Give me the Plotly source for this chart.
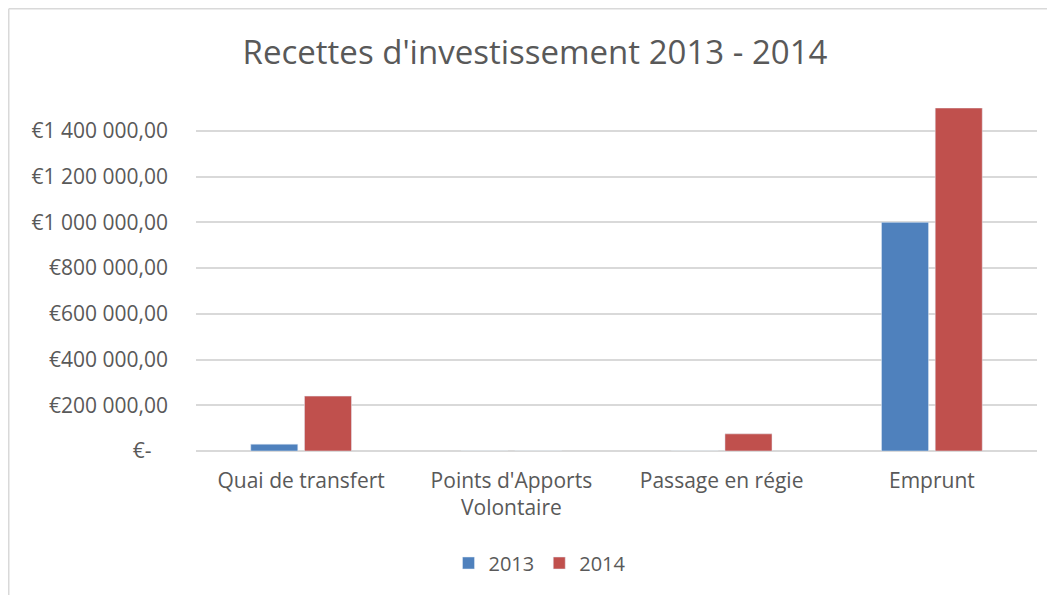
import plotly.graph_objects as go

categories = ["Quai de transfert", "Points d'Apports<br>Volontaire", "Passage en régie", "Emprunt"]
values_2013 = [30000, 0, 0, 1000000]
values_2014 = [240000, 0, 75000, 1500000]
tick_vals = [0, 200000, 400000, 600000, 800000, 1000000, 1200000, 1400000]
tick_text = ["€-\u00a0\u00a0\u00a0", "€200 000,00", "€400 000,00", "€600 000,00", "€800 000,00",
             "€1 000 000,00", "€1 200 000,00", "€1 400 000,00"]

FONT = "Open Sans"
GREY = "#595959"

fig = go.Figure()
fig.add_trace(go.Bar(name="2013", x=categories, y=values_2013, marker_color="#4F81BD"))
fig.add_trace(go.Bar(name="2014", x=categories, y=values_2014, marker_color="#C0504D"))

# page body adds an 8px offset; figure coordinates = screen coordinates - 8
OFF = 8
W, H = 1047, 587
L, R, T, B = 188, 18, 100, 144
pw, ph = W - L - R, H - T - B

def px_x(x):
    return (x - L) / pw

def px_y(y):
    return (H - B - y) / ph

fig.update_layout(
    width=W, height=H,
    margin=dict(l=L, r=R, t=T, b=B, autoexpand=False),
    paper_bgcolor="white", plot_bgcolor="white",
    barmode="group", bargap=0.489, bargroupgap=0.124,
    font=dict(family=FONT, color=GREY, size=20),
    title=dict(text="Recettes d'investissement 2013 - 2014", x=(535 - OFF) / W, xref="container",
               y=1 - (52 - OFF) / H, yref="container", xanchor="center", yanchor="middle",
               font=dict(family=FONT, size=33, color=GREY)),
    legend=dict(orientation="h", x=px_x(540 - OFF), xanchor="center",
                y=px_y(563 - OFF), yanchor="middle",
                font=dict(family=FONT, size=20, color=GREY)),
    showlegend=True,
)
fig.update_yaxes(range=[0, 1500000], tickvals=tick_vals, ticktext=tick_text,
                 showgrid=True, gridcolor="#D9D9D9", gridwidth=1.5,
                 zeroline=True, zerolinecolor="#D9D9D9", zerolinewidth=1.5,
                 showline=False, ticklabelstandoff=27,
                 tickfont=dict(family=FONT, size=21, color=GREY))
fig.update_xaxes(showline=False, showgrid=False, ticklabelstandoff=15,
                 tickfont=dict(family=FONT, size=21, color=GREY))

# chart border along top and left edges (cropped at right/bottom as in reference)
fig.add_shape(type="line", xref="paper", yref="paper", x0=px_x(0.75), x1=px_x(W + 20),
              y0=px_y(0.75), y1=px_y(0.75), line=dict(color="#D9D9D9", width=1.5))
fig.add_shape(type="line", xref="paper", yref="paper", x0=px_x(0.75), x1=px_x(0.75),
              y0=px_y(0.75), y1=px_y(H + 20), line=dict(color="#D9D9D9", width=1.5))

fig.write_html("out.html")
